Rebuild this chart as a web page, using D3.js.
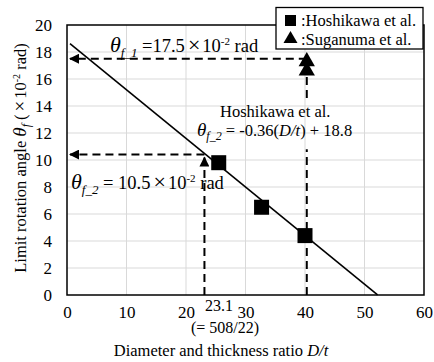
<!DOCTYPE html>
<html>
<head>
<meta charset="utf-8">
<script src="https://cdn.jsdelivr.net/npm/d3@7"></script>
<style>
  body { margin: 0; background: #fff; }
  svg text { font-family: "Liberation Serif", "Times New Roman", serif; fill: #000; }
</style>
</head>
<body>
<svg id="chart" width="434" height="362" font-family="Liberation Serif, serif"></svg>
<script>
const xTicks = [0, 10, 20, 30, 40, 50, 60]
const yTicks = [0, 2, 4, 6, 8, 10, 12, 14, 16, 18, 20]

const hoshikawaDt = [25.5, 32.7, 40.0]
const hoshikawaTheta = [9.8, 6.5, 4.4]
const suganumaDt = [40.3, 40.3]
const suganumaTheta = [17.3, 16.6]

// fitted line: theta = -0.36 * D/t + 18.8
const fitSlope = -0.36
const fitIntercept = 18.8
const fitRange = [0.5, 52.2]

const theta1 = 17.5, theta1Dt = 40.3
const theta2 = 10.4, theta2Dt = 23.1

const margin = {top: 25, right: 10, bottom: 67, left: 67}
const width = 434, height = 362

const x = d3.scaleLinear().domain([0, 60]).range([margin.left, width - margin.right])
const y = d3.scaleLinear().domain([0, 20]).range([height - margin.bottom, margin.top])

const svg = d3.select('#chart')

svg.append('defs').append('marker')
  .attr('id', 'arrow')
  .attr('viewBox', '0 0 10 10')
  .attr('refX', 9).attr('refY', 5)
  .attr('markerWidth', 5.5).attr('markerHeight', 5)
  .attr('orient', 'auto')
  .append('path').attr('d', 'M0,0 L10,5 L0,10 Z').attr('fill', '#000')

// grid
const grid = svg.append('g')
grid.selectAll('line.gx').data(xTicks.slice(1, -1)).join('line')
  .attr('x1', d => x(d)).attr('x2', d => x(d))
  .attr('y1', y(0)).attr('y2', y(20))
  .attr('stroke', '#d9d9d9').attr('stroke-width', 1)
grid.selectAll('line.gy').data(yTicks.slice(1, -1)).join('line')
  .attr('y1', d => y(d)).attr('y2', d => y(d))
  .attr('x1', x(0)).attr('x2', x(60))
  .attr('stroke', '#d9d9d9').attr('stroke-width', 1)

// axes (labels only)
const xAxis = svg.append('g')
  .attr('transform', `translate(0,${y(0)})`)
  .call(d3.axisBottom(x).tickValues(xTicks).tickSize(0).tickPadding(11))
xAxis.select('.domain').remove()
xAxis.attr('font-family', null).attr('font-size', null)
xAxis.selectAll('text').style('font-size', '17px')

const yAxis = svg.append('g')
  .attr('transform', `translate(${x(0)},0)`)
  .call(d3.axisLeft(y).tickValues(yTicks).tickSize(0).tickPadding(15))
yAxis.select('.domain').remove()
yAxis.attr('font-family', null).attr('font-size', null)
yAxis.selectAll('text').style('font-size', '17px')

// frame
svg.append('rect')
  .attr('x', x(0)).attr('y', y(20))
  .attr('width', x(60) - x(0)).attr('height', y(0) - y(20))
  .attr('fill', 'none').attr('stroke', '#000').attr('stroke-width', 1.5)

// dashed guides
const dash = svg.append('g').attr('stroke', '#000').attr('stroke-width', 2)
  .attr('stroke-dasharray', '8,5').attr('fill', 'none')
dash.append('line')
  .attr('x1', x(theta2Dt)).attr('y1', y(0))
  .attr('x2', x(theta2Dt)).attr('y2', y(theta2) + 3)
  .attr('marker-end', 'url(#arrow)')
dash.append('line')
  .attr('x1', x(theta2Dt)).attr('y1', y(theta2))
  .attr('x2', x(0) + 3).attr('y2', y(theta2))
  .attr('marker-end', 'url(#arrow)')
dash.append('line')
  .attr('x1', x(theta1Dt)).attr('y1', y(0))
  .attr('x2', x(theta1Dt)).attr('y2', y(10.8))
dash.append('line')
  .attr('x1', x(theta1Dt)).attr('y1', y(14.6))
  .attr('x2', x(theta1Dt)).attr('y2', y(theta1))
dash.append('line')
  .attr('x1', x(theta1Dt)).attr('y1', y(theta1))
  .attr('x2', x(0) + 3).attr('y2', y(theta1))
  .attr('marker-end', 'url(#arrow)')

// fitted line
const fitLine = d3.line().x(d => x(d)).y(d => y(fitSlope * d + fitIntercept))
svg.append('path').datum(fitRange)
  .attr('d', fitLine)
  .attr('fill', 'none').attr('stroke', '#000').attr('stroke-width', 1.6)

// markers
svg.selectAll('rect.sq').data(hoshikawaDt).join('rect')
  .attr('x', d => x(d) - 7.5)
  .attr('y', (d, i) => y(hoshikawaTheta[i]) - 7.5)
  .attr('width', 15).attr('height', 15).attr('fill', '#000')

const tri = d3.symbol().type(d3.symbolTriangle).size(115)
svg.selectAll('path.tri').data(suganumaDt).join('path')
  .attr('transform', (d, i) => `translate(${x(d)},${y(suganumaTheta[i])})`)
  .attr('d', tri).attr('fill', '#000')

// annotation: Hoshikawa equation
svg.append('text').attr('x', 220).attr('y', 117).style('font-size', '16.5px').text('Hoshikawa et al.')
const eq = svg.append('text').attr('x', 197).attr('y', 136).style('font-size', '16.5px')
eq.append('tspan').style('font-style', 'italic').style('font-size', '19px').text('θ')
eq.append('tspan').style('font-style', 'italic').attr('dy', 4).style('font-size', '12px').text('f_2')
eq.append('tspan').attr('dy', -4).text(' = -0.36(')
eq.append('tspan').style('font-style', 'italic').text('D/t')
eq.append('tspan').text(') + 18.8')

// helper for "θ_sub = value × 10^-2 rad"
function thetaLabel(px, py, sub, value) {
  const t = svg.append('text').attr('x', px).attr('y', py).style('font-size', '18.5px')
  t.append('tspan').style('font-style', 'italic').style('font-size', '22px').text('θ')
  t.append('tspan').style('font-style', 'italic').attr('dy', 5).style('font-size', '13px').text(sub)
  t.append('tspan').attr('dy', -5).text(value)
  t.append('tspan').attr('dx', 3).style('font-size', '22px').text('×')
  t.append('tspan').attr('dx', 2).text('10')
  t.append('tspan').attr('dy', -7).style('font-size', '11px').text('-2')
  t.append('tspan').attr('dy', 7).text(' rad')
}
thetaLabel(110, 52, 'f_1', ' =17.5')
thetaLabel(71, 189, 'f_2', ' = 10.5')

// 23.1 annotation under axis
svg.append('text').attr('x', 219).attr('y', 311).attr('text-anchor', 'middle')
  .style('font-size', '16px').text('23.1')
svg.append('text').attr('x', 225).attr('y', 333).attr('text-anchor', 'middle')
  .style('font-size', '16px').text('(= 508/22)')

// axis titles
const xt = svg.append('text').attr('x', 221).attr('y', 356).attr('text-anchor', 'middle').style('font-size', '16.5px')
xt.append('tspan').text('Diameter and thickness ratio ')
xt.append('tspan').style('font-style', 'italic').text('D/t')

const yt = svg.append('text').attr('transform', 'translate(26,158) rotate(-90)')
  .attr('text-anchor', 'middle').style('font-size', '16.5px')
yt.append('tspan').text('Limit rotation angle ')
yt.append('tspan').style('font-style', 'italic').style('font-size', '19px').text('θ')
yt.append('tspan').style('font-style', 'italic').attr('dy', 4).style('font-size', '12px').text('f')
yt.append('tspan').attr('dy', -4).attr('dx', 4).text('(')
yt.append('tspan').attr('dx', 3).style('font-size', '19px').text('×')
yt.append('tspan').attr('dx', 2).text('10')
yt.append('tspan').attr('dy', -6).style('font-size', '10px').text('-2')
yt.append('tspan').attr('dy', 6).text(' rad)')

// legend
const lg = svg.append('g')
lg.append('rect').attr('x', 276).attr('y', 7.5).attr('width', 147).attr('height', 41.5)
  .attr('fill', '#fff').attr('stroke', '#000').attr('stroke-width', 1.3)
lg.append('rect').attr('x', 285).attr('y', 15).attr('width', 11).attr('height', 11).attr('fill', '#000')
lg.append('path').attr('transform', 'translate(290.5,39)').attr('d', d3.symbol().type(d3.symbolTriangle).size(85)).attr('fill', '#000')
lg.append('text').attr('x', 301).attr('y', 26).style('font-size', '16.5px').text(':Hoshikawa et al.')
lg.append('text').attr('x', 301).attr('y', 45).style('font-size', '16.5px').text(':Suganuma et al.')
</script>
</body>
</html>
